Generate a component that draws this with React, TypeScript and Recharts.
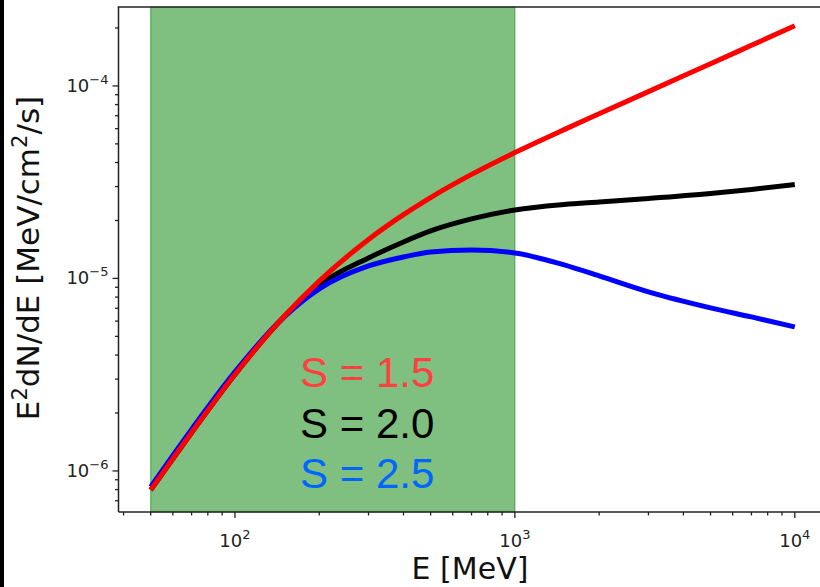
import { LineChart, Line, XAxis, YAxis, ReferenceArea } from "recharts";

// photon energy grid [MeV]
const energyMeV = [50, 70, 100, 150, 200, 300, 400, 500, 700, 1000, 1500, 2000, 3000, 5000, 7000, 10000];

// E^2 dN/dE [MeV/cm^2/s] for three spectral indices
const fluxS15 = [7.96e-7, 1.58e-6, 3.17e-6, 6.36e-6, 9.68e-6, 1.594e-5, 2.145e-5, 2.632e-5, 3.47e-5, 4.508e-5, 5.929e-5, 7.162e-5, 9.341e-5, 1.304e-4, 1.625e-4, 2.052e-4];
const fluxS20 = [7.96e-7, 1.58e-6, 3.17e-6, 6.34e-6, 9.25e-6, 1.278e-5, 1.547e-5, 1.765e-5, 2.037e-5, 2.269e-5, 2.423e-5, 2.497e-5, 2.604e-5, 2.764e-5, 2.9e-5, 3.078e-5];
const fluxS25 = [8.26e-7, 1.643e-6, 3.268e-6, 6.31e-6, 8.82e-6, 1.161e-5, 1.293e-5, 1.373e-5, 1.406e-5, 1.357e-5, 1.175e-5, 1.03e-5, 8.51e-6, 7.03e-6, 6.31e-6, 5.6e-6];

// shaded energy band
const bandMeV = [50, 1000];

const xMajorTicks = [100, 1000, 10000];
const xMinorTicks = [40, 50, 60, 70, 80, 90, 200, 300, 400, 500, 600, 700, 800, 900, 2000, 3000, 4000, 5000, 6000, 7000, 8000, 9000];
const yMajorTicks = [1e-6, 1e-5, 1e-4];
const yMinorTicks = [7e-7, 8e-7, 9e-7, 2e-6, 3e-6, 4e-6, 5e-6, 6e-6, 7e-6, 8e-6, 9e-6, 2e-5, 3e-5, 4e-5, 5e-5, 6e-5, 7e-5, 8e-5, 9e-5, 2e-4];

const seriesLabels = ["S = 1.5", "S = 2.0", "S = 2.5"];

const data = energyMeV.map((e, i) => ({
  e,
  s15: fluxS15[i],
  s20: fluxS20[i],
  s25: fluxS25[i],
}));

const X_DOMAIN = [38.37, 13032];
const Y_DOMAIN = [6.12e-7, 2.57e-4];
const PLOT_LEFT = 118.5;
const PLOT_TOP = 7;
const AXIS = "#222";
const MATH_FONT = "DejaVu Sans";

const exponent = (v: number) => {
  const n = Math.round(Math.log10(v));
  return n < 0 ? `\u2212${-n}` : `${n}`;
};

const XTick = (props: any) => {
  const { x, y, payload } = props;
  const major = xMajorTicks.includes(payload.value);
  return (
    <g>
      <line x1={x} y1={y} x2={x} y2={y + (major ? 6 : 3.5)} stroke={AXIS} strokeWidth={1.3} />
      {major && (
        <text x={x} y={y + 35} textAnchor="middle" fontFamily={MATH_FONT} fontSize={18} fill={AXIS}>
          10
          <tspan fontSize={13} dy={-8}>
            {exponent(payload.value)}
          </tspan>
        </text>
      )}
    </g>
  );
};

const YTick = (props: any) => {
  const { x, y, payload } = props;
  const major = yMajorTicks.includes(payload.value);
  return (
    <g>
      <line x1={x} y1={y} x2={x - (major ? 6 : 3.5)} y2={y} stroke={AXIS} strokeWidth={1.3} />
      {major && (
        <text x={x - 10} y={y + 6} textAnchor="end" fontFamily={MATH_FONT} fontSize={18} fill={AXIS}>
          10
          <tspan fontSize={13} dy={-8}>
            {exponent(payload.value)}
          </tspan>
        </text>
      )}
    </g>
  );
};

export default function App() {
  return (
    <div
      style={{
        position: "absolute",
        left: 0,
        top: 0,
        width: 820,
        height: 587,
        overflow: "hidden",
        background: "#fff",
      }}
    >
      <LineChart width={840} height={587} data={data} margin={{ top: PLOT_TOP, right: 13, bottom: 0, left: 0 }}>
        <XAxis
          dataKey="e"
          type="number"
          scale="log"
          domain={X_DOMAIN}
          allowDataOverflow
          ticks={[...xMajorTicks, ...xMinorTicks].sort((a, b) => a - b)}
          interval={0}
          tick={<XTick />}
          tickLine={false}
          tickSize={0}
          tickMargin={0}
          height={75}
          axisLine={{ stroke: AXIS, strokeWidth: 1.5 }}
        />
        <YAxis
          type="number"
          scale="log"
          domain={Y_DOMAIN}
          allowDataOverflow
          ticks={[...yMajorTicks, ...yMinorTicks].sort((a, b) => a - b)}
          interval={0}
          tick={<YTick />}
          tickLine={false}
          tickSize={0}
          tickMargin={0}
          width={PLOT_LEFT}
          axisLine={{ stroke: AXIS, strokeWidth: 1.5 }}
        />
        <ReferenceArea
          x1={bandMeV[0]}
          x2={bandMeV[1]}
          fill="#008000"
          fillOpacity={0.5}
          stroke="#008000"
          strokeOpacity={0.5}
          strokeWidth={1.2}
        />
        <Line dataKey="s20" type="monotone" stroke="#000000" strokeWidth={5} dot={false} isAnimationActive={false} />
        <Line dataKey="s25" type="monotone" stroke="#0000ff" strokeWidth={5} dot={false} isAnimationActive={false} />
        <Line dataKey="s15" type="monotone" stroke="#ff0000" strokeWidth={5} dot={false} isAnimationActive={false} />
      </LineChart>

      <svg width={820} height={587} style={{ position: "absolute", left: 0, top: 0, pointerEvents: "none" }}>
        {/* top spine */}
        <line x1={PLOT_LEFT - 0.75} y1={PLOT_TOP} x2={820} y2={PLOT_TOP} stroke={AXIS} strokeWidth={1.5} />
        <text x={470} y={579} textAnchor="middle" fontFamily={MATH_FONT} fontSize={30} fill="#111">
          E [MeV]
        </text>
        <text transform="translate(39,258) rotate(-90)" textAnchor="middle" fontFamily={MATH_FONT} fontSize={31} fill="#111">
          E<tspan fontSize={21} dy={-12}>2</tspan>
          <tspan dy={12}>dN/dE [MeV/cm</tspan>
          <tspan fontSize={21} dy={-12}>2</tspan>
          <tspan dy={12}>/s]</tspan>
        </text>
        <g fontFamily="Liberation Sans" fontSize={42}>
          <text x={300} y={387} fill="#ff4040">{seriesLabels[0]}</text>
          <text x={300} y={438} fill="#000000">{seriesLabels[1]}</text>
          <text x={300} y={488} fill="#0066ff">{seriesLabels[2]}</text>
        </g>
      </svg>
      <div style={{ position: "absolute", left: 0, top: 0, width: 4, height: 587, background: "#000" }} />
    </div>
  );
}
